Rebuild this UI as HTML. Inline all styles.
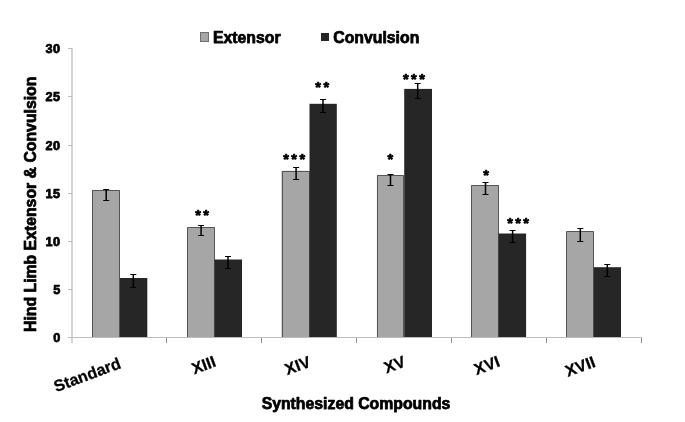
<!DOCTYPE html>
<html><head><meta charset="utf-8"><title>Chart</title>
<style>
html,body{margin:0;padding:0;background:#fff;}
svg{display:block;}
text{font-family:"Liberation Sans",Arial,sans-serif;font-weight:bold;fill:#000;stroke:#000;stroke-width:0.75px;stroke-linejoin:round;}
text.cat{stroke-width:0.25px;}
</style></head><body>
<svg width="685" height="422" viewBox="0 0 685 422">
<rect x="0" y="0" width="685" height="422" fill="#ffffff"/>

<rect x="92.0" y="190.3" width="28.0" height="146.7" fill="#a6a6a6"/><path d="M92.5 337V190.5H119.5V337" fill="none" stroke="#555555" stroke-width="1"/>
<rect x="120.0" y="278.0" width="27.3" height="59.0" fill="#262626"/>
<rect x="187.2" y="227.2" width="27.4" height="109.8" fill="#a6a6a6"/><path d="M187.5 337V227.5H214.5V337" fill="none" stroke="#555555" stroke-width="1"/>
<rect x="214.6" y="259.5" width="27.4" height="77.5" fill="#262626"/>
<rect x="281.5" y="170.8" width="28.0" height="166.2" fill="#a6a6a6"/><path d="M282.5 337V171.5H309.5V337" fill="none" stroke="#555555" stroke-width="1"/>
<rect x="309.5" y="103.8" width="27.3" height="233.2" fill="#262626"/>
<rect x="376.9" y="175.2" width="27.3" height="161.8" fill="#a6a6a6"/><path d="M377.5 337V175.5H403.5V337" fill="none" stroke="#555555" stroke-width="1"/>
<rect x="404.2" y="88.9" width="27.8" height="248.1" fill="#262626"/>
<rect x="471.2" y="185.0" width="27.4" height="152.0" fill="#a6a6a6"/><path d="M471.5 337V185.5H498.5V337" fill="none" stroke="#555555" stroke-width="1"/>
<rect x="498.6" y="233.5" width="27.5" height="103.5" fill="#262626"/>
<rect x="566.3" y="231.4" width="27.5" height="105.6" fill="#a6a6a6"/><path d="M566.5 337V231.5H593.5V337" fill="none" stroke="#555555" stroke-width="1"/>
<rect x="593.8" y="267.2" width="27.2" height="69.8" fill="#262626"/>
<g fill="none" stroke-width="1">
<line x1="72" y1="48" x2="72" y2="343" stroke="#aaaaaa"/>
<g stroke="#bcbcbc" shape-rendering="crispEdges">
<line x1="68" y1="337.5" x2="642" y2="337.5"/>
<line x1="68" y1="337.5" x2="72" y2="337.5"/>
<line x1="68" y1="289.5" x2="72" y2="289.5"/>
<line x1="68" y1="241.5" x2="72" y2="241.5"/>
<line x1="68" y1="193.5" x2="72" y2="193.5"/>
<line x1="68" y1="145.5" x2="72" y2="145.5"/>
<line x1="68" y1="96.5" x2="72" y2="96.5"/>
<line x1="68" y1="48.5" x2="72" y2="48.5"/>
</g><g stroke="#8e8e8e" shape-rendering="crispEdges">
<line x1="166.5" y1="338" x2="166.5" y2="343"/>
<line x1="261.5" y1="338" x2="261.5" y2="343"/>
<line x1="356.5" y1="338" x2="356.5" y2="343"/>
<line x1="451.5" y1="338" x2="451.5" y2="343"/>
<line x1="546.5" y1="338" x2="546.5" y2="343"/>
<line x1="641.5" y1="338" x2="641.5" y2="343"/>
</g></g>
<g stroke="#000" fill="none">
<path d="M106.2 189.5V200.5" stroke-width="1.5"/><path d="M103.2 189.5H109.2M103.2 200.5H109.2" stroke-width="1"/>
<path d="M133.3 274.5V287.5" stroke-width="1.5"/><path d="M130.3 274.5H136.3M130.3 287.5H136.3" stroke-width="1"/>
<path d="M201.1 225.5V235.5" stroke-width="1.5"/><path d="M198.1 225.5H204.1M198.1 235.5H204.1" stroke-width="1"/>
<path d="M228.0 256.5V268.5" stroke-width="1.5"/><path d="M225.0 256.5H231.0M225.0 268.5H231.0" stroke-width="1"/>
<path d="M296.1 167.5V179.5" stroke-width="1.5"/><path d="M293.1 167.5H299.1M293.1 179.5H299.1" stroke-width="1"/>
<path d="M323.0 99.5V112.5" stroke-width="1.5"/><path d="M320.0 99.5H326.0M320.0 112.5H326.0" stroke-width="1"/>
<path d="M390.5 174.5V185.5" stroke-width="1.5"/><path d="M387.5 174.5H393.5M387.5 185.5H393.5" stroke-width="1"/>
<path d="M417.7 83.5V98.5" stroke-width="1.5"/><path d="M414.7 83.5H420.7M414.7 98.5H420.7" stroke-width="1"/>
<path d="M485.5 182.5V194.5" stroke-width="1.5"/><path d="M482.5 182.5H488.5M482.5 194.5H488.5" stroke-width="1"/>
<path d="M512.6 230.5V242.5" stroke-width="1.5"/><path d="M509.6 230.5H515.6M509.6 242.5H515.6" stroke-width="1"/>
<path d="M580.3 228.5V241.5" stroke-width="1.5"/><path d="M577.3 228.5H583.3M577.3 241.5H583.3" stroke-width="1"/>
<path d="M607.3 264.5V276.5" stroke-width="1.5"/><path d="M604.3 264.5H610.3M604.3 276.5H610.3" stroke-width="1"/>
</g>
<text x="60.7" y="342.1" font-size="12.7" letter-spacing="0.5" text-anchor="end">0</text>
<text x="60.7" y="294.1" font-size="12.7" letter-spacing="0.5" text-anchor="end">5</text>
<text x="60.7" y="246.1" font-size="12.7" letter-spacing="0.5" text-anchor="end">10</text>
<text x="60.7" y="198.1" font-size="12.7" letter-spacing="0.5" text-anchor="end">15</text>
<text x="60.7" y="150.1" font-size="12.7" letter-spacing="0.5" text-anchor="end">20</text>
<text x="60.7" y="101.1" font-size="12.7" letter-spacing="0.5" text-anchor="end">25</text>
<text x="60.7" y="53.1" font-size="12.7" letter-spacing="0.5" text-anchor="end">30</text>
<text x="195.17" y="220.18" font-size="14.5" letter-spacing="2.46">**</text>
<text x="315.37" y="92.23" font-size="14.5" letter-spacing="2.46">**</text>
<text x="283.22" y="163.93" font-size="14.5" letter-spacing="2.46">***</text>
<text x="403.02" y="84.18" font-size="14.5" letter-spacing="2.46">***</text>
<text x="387.52" y="164.18" font-size="14.5" letter-spacing="2.46">*</text>
<text x="483.22" y="180.33" font-size="14.5" letter-spacing="2.46">*</text>
<text x="507.17" y="227.98" font-size="14.5" letter-spacing="2.46">***</text>
<text transform="translate(122.0,367.7) rotate(-20.5)" font-size="16.2" text-anchor="end" class="cat">Standard</text>
<text transform="translate(217.0,366.0) rotate(-20.5)" font-size="16.2" text-anchor="end" class="cat">XIII</text>
<text transform="translate(311.8,366.2) rotate(-20.5)" font-size="16.2" text-anchor="end" class="cat">XIV</text>
<text transform="translate(406.7,365.9) rotate(-20.5)" font-size="16.2" text-anchor="end" class="cat">XV</text>
<text transform="translate(501.0,366.0) rotate(-20.5)" font-size="16.2" text-anchor="end" class="cat">XVI</text>
<text transform="translate(596.4,366.3) rotate(-20.5)" font-size="16.2" text-anchor="end" class="cat">XVII</text>
<text x="356" y="408.6" font-size="15.8" text-anchor="middle">Synthesized Compounds</text>
<text transform="translate(36.3,204.3) rotate(-90)" font-size="15.8" text-anchor="middle">Hind Limb Extensor &amp; Convulsion</text>
<rect x="200.5" y="32.5" width="8" height="9" fill="#a6a6a6" stroke="#6e6e6e" stroke-width="1"/>
<text x="213" y="42.8" font-size="15.8">Extensor</text>
<rect x="321" y="33" width="8" height="8" fill="#262626"/>
<text x="333.3" y="42.8" font-size="15.8">Convulsion</text>
</svg>
</body></html>
